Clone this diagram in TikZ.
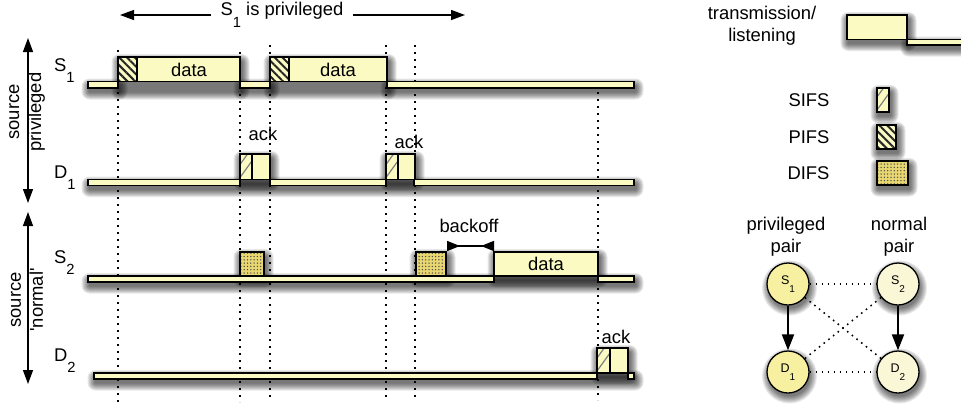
\documentclass[tikz,border=0pt]{standalone}
\usepackage{fontspec}
\setmainfont{Liberation Sans}
\setmonofont{Liberation Sans}
\usetikzlibrary{arrows.meta,patterns.meta}
\definecolor{ly}{RGB}{250,250,194}
\definecolor{ny}{RGB}{246,240,160}
\definecolor{py}{RGB}{249,247,214}
\definecolor{dy}{RGB}{232,214,112}
\newcommand\subl[1]{\raisebox{-0.62em}{\scalebox{0.8}{#1}}}
\newcommand\sq{{\ttfamily\char"27}}
% soft shadow under a rectangle: x1 y1 x2 y2
\newcommand\shd[4]{%
  \foreach \i in {1,...,8}{%
    \fill[black,opacity=0.09,rounded corners=\i pt] ({#1-\i+1.5},{#2-\i+5}) rectangle ({#3+\i+1.5},{#4+\i+3.5});}}
\newcommand\cshd[2]{%
  \foreach \i in {1,...,8}{%
    \fill[black,opacity=0.085] ({#1+1.5},{#2+4}) circle ({19.5+\i});}}
\newcommand\sifsbox[4]{%
  \path[fill=ly] (#1,#2) rectangle (#3,#4);
  \begin{scope}
    \clip (#1,#2) rectangle (#3,#4);
    \draw[black!50,line width=1.2pt] (#1,#4) ++(0,-2) -- ++(13,-18);
    \draw[black!50,line width=1.2pt] (#1,#4) ++(0,-15) -- ++(13,-18);
  \end{scope}
  \draw[line width=1.3pt] (#1,#2) rectangle (#3,#4);}
\begin{document}
\begin{tikzpicture}[x=1pt,y=-1pt,
  font=\fontsize{18.4}{22}\selectfont,
  bar/.style={draw=black,line width=1.3pt,fill=ly},
  pifs/.style={draw=black,line width=1.3pt,preaction={fill=ly},pattern={Lines[angle=-45,distance=5.5pt,line width=2pt]},pattern color=black!85},
  difs/.style={draw=black,line width=1.3pt,preaction={fill=dy},pattern={Dots[distance=3.3pt,radius=0.75pt]},pattern color=black!70},
  dotline/.style={line width=1.7pt,dash pattern=on 1.7pt off 5.3pt},
  dotg/.style={line width=1.5pt,dash pattern=on 1.6pt off 4.4pt},
  bigtip/.style={line width=1.3pt,{Triangle[length=14pt,width=10pt]}-{Triangle[length=14pt,width=10pt]}},
  onetip/.style={line width=1.3pt,-{Triangle[length=14pt,width=10pt]}},
  lbl/.style={anchor=base west,inner sep=0pt},
  gnode/.style={circle,draw=black,line width=1.3pt,minimum size=42pt,inner sep=0pt,font=\fontsize{12.5}{13}\selectfont},
]
\useasboundingbox (0,0) rectangle (961,405);

% shadows
\shd{88}{81.5}{118}{88}
\shd{118}{57}{240}{88}
\shd{240}{81.5}{270}{88}
\shd{270}{57}{387}{88}
\shd{387}{81.5}{634}{88}
\shd{88}{179.5}{634}{185.5}
\shd{240}{154}{270}{179.5}
\shd{386}{154}{415}{179.5}
\shd{88}{276}{634}{282}
\shd{240}{252}{264}{276}
\shd{416}{252}{446}{276}
\shd{494}{252}{598}{276}
\shd{94}{373}{634}{379}
\shd{597}{348}{628}{373}
\shd{847}{15}{907}{39.5}
\shd{907}{39.5}{970}{45}
\shd{877}{88}{889}{112}
\shd{877}{125}{896}{149}
\shd{877}{161}{908}{185}
\cshd{788}{284}
\cshd{898}{284}
\cshd{788}{372}
\cshd{898}{372}

% dotted time markers
\draw[dotline] (118,50) -- (118,402);
\draw[dotline] (240,52) -- (240,402);
\draw[dotline] (270,45) -- (270,400);
\draw[dotline] (386,45) -- (386,400);
\draw[dotline] (415,45) -- (415,400);
\draw[dotline] (598,92) -- (598,400);

% top arrow
\node[inner xsep=9pt] (priv) at (282,15) {S\subl{1} is privileged};
\coordinate (pl) at (120,15);
\coordinate (pr) at (465,15);
\draw[onetip] (priv) -- (pl);
\draw[onetip] (priv) -- (pr);

% left arrows
\coordinate (a1t) at (28,38);
\coordinate (a1b) at (28,203);
\draw[bigtip] (a1t) -- (a1b);
\node[rotate=90,align=center,inner sep=0pt] (vl1) at (27,112) {source\\privileged};
\coordinate (a2t) at (28,212);
\coordinate (a2b) at (28,384);
\draw[bigtip] (a2t) -- (a2b);
\node[rotate=90,align=center,inner sep=0pt] (vl2) at (27,300) {source\\\sq normal\sq};

% row labels
\node[lbl] (ls1) at (54,71) {S\subl{1}};
\node[lbl] (ld1) at (54,178) {D\subl{1}};
\node[lbl] (ls2) at (54,263) {S\subl{2}};
\node[lbl] (ld2) at (54,361) {D\subl{2}};

% S1 row
\path[bar] (88,81.5) rectangle (118,88);
\path[bar] (240,81.5) rectangle (270,88);
\path[bar] (387,81.5) rectangle (634,88);
\path[bar] (118,57) rectangle (240,81.5);
\path[pifs] (118,57) rectangle (137,81.5);
\node (dat1) at (189,69.5) {data};
\path[bar] (270,57) rectangle (387,81.5);
\path[pifs] (270,57) rectangle (289,81.5);
\node (dat2) at (338,69.5) {data};

% D1 row
\path[bar] (88,179.5) rectangle (240,185.5);
\path[bar] (270,179.5) rectangle (386,185.5);
\path[bar] (414,179.5) rectangle (634,185.5);
\path[bar] (240,154) rectangle (270,179.5);
\sifsbox{240}{154}{252}{179.5}
\node (ack1) at (263,134) {ack};
\path[bar] (386,154) rectangle (415,179.5);
\sifsbox{386}{154}{398}{179.5}
\node (ack2) at (409,142) {ack};

% S2 row
\path[bar] (88,276) rectangle (494,282);
\path[bar] (598,276) rectangle (634,282);
\path[difs] (240,252) rectangle (264,276);
\path[difs] (416,252) rectangle (446,276);
\path[bar] (494,252) rectangle (598,276);
\node (dat3) at (546,264) {data};
\coordinate (bo1) at (447,246);
\coordinate (bo2) at (494,246);
\draw[line width=1.5pt,{Triangle[reversed,length=13pt,width=10pt]}-{Triangle[reversed,length=13pt,width=10pt]}] (bo1) -- (bo2);
\node (boff) at (469,226) {backoff};

% D2 row
\path[bar] (94,373) rectangle (597,379);
\path[bar] (628,373) rectangle (634,379);
\path[bar] (597,348) rectangle (628,373);
\sifsbox{597}{348}{610}{373}
\node (ack3) at (616,337) {ack};

% legend
\node[align=center] (ltr) at (762,26) {transmission/\\listening};
\path[bar] (907,39.5) rectangle (966,45);
\path[bar] (847,15) rectangle (907,39.5);
\node[anchor=east] (lsifs) at (833,100) {SIFS};
\sifsbox{877}{88}{889}{112}
\node[anchor=east] (lpifs) at (833,137) {PIFS};
\path[pifs] (877,125) rectangle (896,149);
\node[anchor=east] (ldifs) at (833,173) {DIFS};
\path[difs] (877,161) rectangle (908,185);

% graph
\node[align=center] (gpp) at (786,237) {privileged\\pair};
\node[align=center] (gnp) at (899,237) {normal\\pair};
\node[gnode,fill=ny] (s1) at (788,284) {S\subl{1}};
\node[gnode,fill=py] (s2) at (898,284) {S\subl{2}};
\node[gnode,fill=ny] (d1) at (788,372) {D\subl{1}};
\node[gnode,fill=py] (d2) at (898,372) {D\subl{2}};
\draw[dotg] (s1) -- (s2);
\draw[dotg] (d1) -- (d2);
\draw[dotg] (s1) -- (d2);
\draw[dotg] (s2) -- (d1);
\draw[line width=2pt,-{Triangle[length=16pt,width=12pt]}] (s1) -- (d1);
\draw[line width=2pt,-{Triangle[length=16pt,width=12pt]}] (s2) -- (d2);
\end{tikzpicture}
\end{document}
